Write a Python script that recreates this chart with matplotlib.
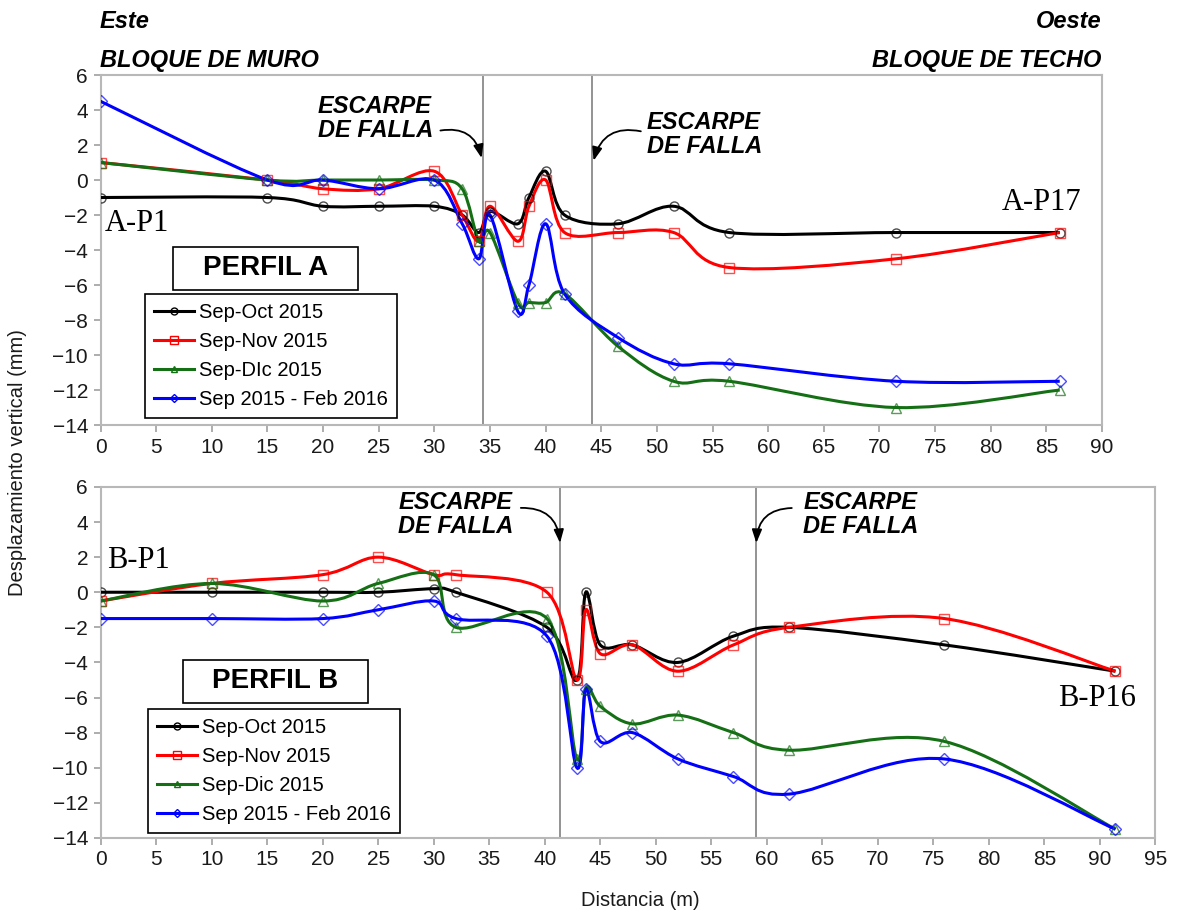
import numpy as np
import matplotlib
matplotlib.use("Agg")
import matplotlib.pyplot as plt
from matplotlib.path import Path
from matplotlib.patches import PathPatch, Rectangle
from matplotlib.lines import Line2D

plt.rcParams["font.family"] = ["Liberation Sans", "DejaVu Sans"]

series_names_a = ["Sep-Oct 2015", "Sep-Nov 2015", "Sep-DIc 2015", "Sep 2015 - Feb 2016"]
series_names_b = ["Sep-Oct 2015", "Sep-Nov 2015", "Sep-Dic 2015", "Sep 2015 - Feb 2016"]

# Perfil A: distancia (m) y desplazamiento vertical (mm)
dist_a = [0, 15, 20, 25, 30, 32.5, 34, 35, 37.5, 38.5, 40, 41.7, 46.5, 51.5, 56.5, 71.5, 86.2]
oct_a = [-1, -1, -1.5, -1.5, -1.5, -2, -3, -1.8, -2.5, -1, 0.5, -2, -2.5, -1.5, -3, -3, -3]
nov_a = [1, 0, -0.5, -0.5, 0.5, -2, -3.5, -1.5, -3.5, -1.5, 0, -3, -3, -3, -5, -4.5, -3]
dic_a = [1, 0, 0, 0, 0, -0.5, -3.5, -3, -7, -7, -7, -6.5, -9.5, -11.5, -11.5, -13, -12]
feb_a = [4.5, 0, 0, -0.5, 0, -2.5, -4.5, -2, -7.5, -6, -2.5, -6.5, -9, -10.5, -10.5, -11.5, -11.5]

# Perfil B
dist_b = [0, 10, 20, 25, 30, 32, 40.2, 42.9, 43.7, 45, 47.9, 52, 57, 62, 76, 91.4]
oct_b = [0, 0, 0, 0, 0.2, 0, -2, -5, 0, -3, -3, -4, -2.5, -2, -3, -4.5]
nov_b = [-0.5, 0.5, 1, 2, 1, 1, 0, -5, -1, -3.5, -3, -4.5, -3, -2, -1.5, -4.5]
dic_b = [-0.5, 0.5, -0.5, 0.5, 1, -2, -1.5, -9.5, -5.5, -6.5, -7.5, -7, -8, -9, -8.5, -13.5]
feb_b = [-1.5, -1.5, -1.5, -1, -0.5, -1.5, -2.5, -10, -5.5, -8.5, -8, -9.5, -10.5, -11.5, -9.5, -13.5]

fallas_a = [34.4, 44.2]
fallas_b = [41.4, 59.0]

colors = ["#000000", "#ff0000", "#156f15", "#0000ff"]
markers = ["o", "s", "^", "D"]
msizes = [6.5, 7, 6.5, 6]


def smooth_path(xs, ys):
    # curva suavizada tipo Excel (Bezier con tangentes Catmull-Rom)
    pts = np.column_stack([xs, ys]).astype(float)
    n = len(pts)
    verts = [pts[0]]
    codes = [Path.MOVETO]
    for i in range(n - 1):
        p0 = pts[i - 1] if i > 0 else pts[i]
        p1 = pts[i]
        p2 = pts[i + 1]
        p3 = pts[i + 2] if i + 2 < n else pts[i + 1]
        c1 = p1 + (p2 - p0) / 6.0
        c2 = p2 - (p3 - p1) / 6.0
        verts += [c1, c2, p2]
        codes += [Path.CURVE4] * 3
    return Path(verts, codes)


def draw_profile(ax, dist, series, names, xmax, fallas, perfil, rect_box, leg_box):
    for ys, c, m, ms in zip(series, colors, markers, msizes):
        ax.add_patch(PathPatch(smooth_path(dist, ys), fill=False, edgecolor=c,
                               lw=2.2, zorder=3))
        ax.plot(dist, ys, ls="none", marker=m, ms=ms, mfc="none", mec=c,
                mew=1.0, alpha=0.7, zorder=4)
    for xf in fallas:
        ax.axvline(xf, color="#808080", lw=1.2, zorder=2)
    ax.set_xlim(0, xmax)
    ax.set_ylim(-14, 6)
    ax.set_xticks(np.arange(0, xmax + 1, 5))
    ax.set_yticks(np.arange(-14, 7, 2))
    ax.tick_params(direction="out", length=5, width=1.2, color="#a0a0a0",
                   labelsize=15, labelcolor="#1a1a1a", pad=4)
    for sp in ax.spines.values():
        sp.set_color("#b8b8b8")
        sp.set_linewidth(1.5)

    handles = [Line2D([], [], color=c, lw=2.2, marker=m, ms=ms - 1.5, mfc="none", mec=c)
               for c, m, ms in zip(colors, markers, msizes)]
    leg = ax.legend(handles, names, loc="lower left",
                    bbox_to_anchor=(leg_box[0], leg_box[1]), borderaxespad=0,
                    fontsize=14.5, frameon=True, fancybox=False, framealpha=1,
                    edgecolor="black", handlelength=2.0, handletextpad=0.25,
                    labelspacing=0.5, borderpad=0.45)
    leg.get_frame().set_linewidth(1.2)
    leg.set_zorder(6)

    x0, y0, x1, y1 = rect_box
    ax.add_patch(Rectangle((x0, y0), x1 - x0, y1 - y0, transform=ax.transAxes,
                           facecolor="white", edgecolor="black", lw=1.2, zorder=7))
    ax.text((x0 + x1) / 2, (y0 + y1) / 2, perfil, transform=ax.transAxes,
            ha="center", va="center", fontsize=20, fontweight="bold", zorder=8)


def escarpe(ax, xt, yt, xy_from, xy_to, rad):
    ax.text(xt, yt, "ESCARPE\nDE FALLA", ha="left", va="center", fontsize=17,
            fontweight="bold", fontstyle="italic", linespacing=1.05, zorder=5)
    ax.annotate("", xy=xy_to, xytext=xy_from,
                arrowprops=dict(arrowstyle="-|>,head_length=0.8,head_width=0.3",
                                color="black", lw=1.3,
                                connectionstyle="arc3,rad=%s" % rad),
                zorder=5)


fig = plt.figure(figsize=(11.77, 9.17), dpi=100)
ax1 = fig.add_axes([0.0854, 0.5365, 0.8509, 0.3817])
ax2 = fig.add_axes([0.0854, 0.0862, 0.8963, 0.3828])

draw_profile(ax1, dist_a, [oct_a, nov_a, dic_a, feb_a], series_names_a, 90,
             fallas_a, "PERFIL A", (0.0721, 0.3857, 0.2574, 0.5094), (0.0444, 0.019))
draw_profile(ax2, dist_b, [oct_b, nov_b, dic_b, feb_b], series_names_b, 95,
             fallas_b, "PERFIL B", (0.0782, 0.3846, 0.2536, 0.507), (0.045, 0.0142))

escarpe(ax1, 19.5, 3.5, (30.3, 2.8), (34.3, 1.1), -0.5)
escarpe(ax1, 49.1, 2.6, (48.8, 2.75), (44.25, 0.95), 0.5)
escarpe(ax2, 26.8, 4.42, (37.6, 4.8), (41.4, 2.65), -0.5)
escarpe(ax2, 63.3, 4.42, (62.5, 4.8), (59.05, 2.65), 0.5)

serif = ["Liberation Serif", "DejaVu Serif"]
ax1.text(0.4, -2.5, "A-P1", family=serif, fontsize=22, ha="left", va="center", zorder=5)
ax1.text(84.6, -1.26, "A-P17", family=serif, fontsize=22, ha="center", va="center", zorder=5)
ax2.text(0.56, 1.82, "B-P1", family=serif, fontsize=22, ha="left", va="center", zorder=5)
ax2.text(89.75, -6.04, "B-P16", family=serif, fontsize=22, ha="center", va="center", zorder=5)

# orientacion del perfil
hdr = dict(fontsize=17, fontweight="bold", fontstyle="italic", va="center")
fig.text(100 / 1177, 1 - 22 / 917, "Este", ha="left", **hdr)
fig.text(1101 / 1177, 1 - 22 / 917, "Oeste", ha="right", **hdr)
fig.text(100 / 1177, 1 - 60 / 917, "BLOQUE DE MURO", ha="left", **hdr)
fig.text(1101 / 1177, 1 - 60 / 917, "BLOQUE DE TECHO", ha="right", **hdr)

fig.text(18 / 1177, 1 - 463 / 917, "Desplazamiento vertical (mm)", rotation=90,
         ha="center", va="center", fontsize=14.5, color="#1a1a1a")
fig.text(640 / 1177, 1 - 900 / 917, "Distancia (m)", ha="center", va="center",
         fontsize=14.5, color="#1a1a1a")

fig.savefig("out.png", dpi=100)
plt.close(fig)
